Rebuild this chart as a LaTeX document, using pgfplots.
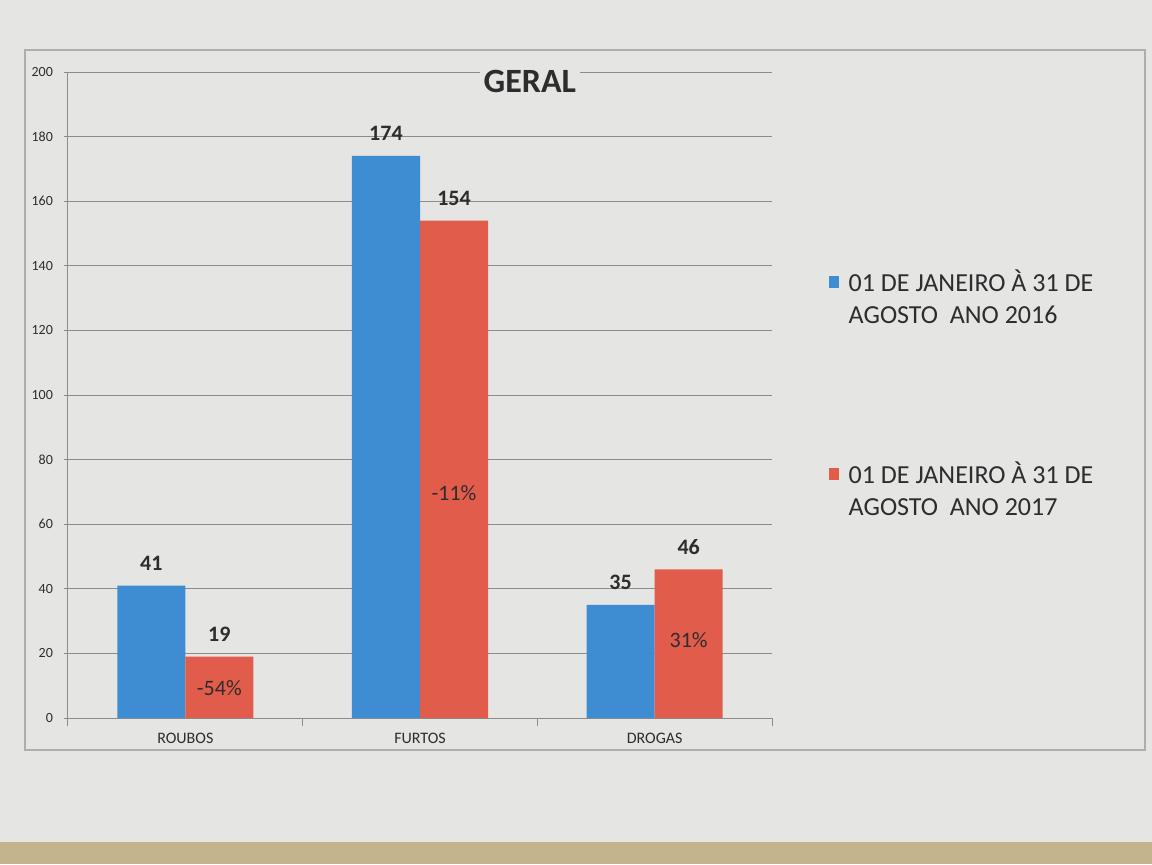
\documentclass[border=0pt]{standalone}
\usepackage{pgfplots}
\pgfplotsset{compat=1.18}
\usepackage{fontspec}
\setmainfont{Carlito}
\definecolor{bgpaper}{RGB}{229,229,228}
\definecolor{barblue}{RGB}{62,141,211}
\definecolor{barred}{RGB}{226,92,76}
\definecolor{txt}{RGB}{45,45,45}
\definecolor{gridc}{RGB}{140,140,140}
\definecolor{tablec}{RGB}{196,180,140}
\begin{document}
\begin{tikzpicture}
\begin{scope}[x=0.5pt,y=0.5pt]
\fill[bgpaper] (0,0) rectangle (1152,864);
\fill[tablec] (0,0) rectangle (1152,22);
\draw[gridc!70, line width=0.6pt] (25,114) rectangle (1145,814);
\end{scope}
\begin{axis}[
  at={(34pt,73pt)}, anchor=south west, scale only axis,
  width=352pt, height=323pt,
  clip=false,
  ybar=0pt, bar width=0.29,
  xmin=-0.5, xmax=2.5, ymin=0, ymax=200,
  xtick={0,1,2}, xticklabels={ROUBOS,FURTOS,DROGAS},
  minor xtick={-0.5,0.5,1.5,2.5},
  ytick={0,20,...,200},
  axis x line*=bottom, axis y line*=left,
  x axis line style={-}, y axis line style={-},
  axis line style={gridc, line width=0.5pt},
  ymajorgrids, grid style={gridc, line width=0.5pt},
  major x tick style={draw=none},
  tick align=outside, major tick length=2pt, minor tick length=4pt,
  tick style={gridc, line width=0.5pt},
  minor x tick style={gridc},
  ticklabel style={font=\fontsize{7}{8}\selectfont, text=txt},
  /pgf/number format/assume math mode=true,
  xticklabel style={yshift=-2pt, font=\fontsize{8}{9}\selectfont},
  yticklabel style={xshift=-2pt},
  nodes near coords,
  every node near coord/.append style={font=\bfseries\fontsize{11}{13}\selectfont, text=txt, yshift=4pt},
  legend image code/.code={\fill[#1] (0pt,5pt) rectangle (5pt,11pt);},
  legend style={at={(1.0715,0.707)}, anchor=north west, draw=none, fill=none,
    font=\fontsize{13}{16}\selectfont, text=txt, row sep=63.5pt, column sep=3pt,
    cells={align=left}},
  legend cell align=left,
]
\addplot[fill=barblue, draw=none] coordinates {(0,41) (1,174) (2,35)};
\addlegendentry{01 DE JANEIRO À 31 DE\\AGOSTO \ ANO 2016}
\addplot[fill=barred, draw=none] coordinates {(0,19) (1,154) (2,46)};
\addlegendentry{01 DE JANEIRO À 31 DE\\AGOSTO \ ANO 2017}
\node[font=\bfseries\fontsize{17}{20}\selectfont, text=txt, fill=bgpaper, inner sep=2pt] at (rel axis cs:0.656,0.986) {GERAL};
\node[font=\fontsize{11}{13}\selectfont, text=txt] at (axis cs:0.145,9.3) {-54\%};
\node[font=\fontsize{11}{13}\selectfont, text=txt] at (axis cs:1.145,69.7) {-11\%};
\node[font=\fontsize{11}{13}\selectfont, text=txt] at (axis cs:2.145,24.1) {31\%};
\end{axis}
\end{tikzpicture}
\end{document}
